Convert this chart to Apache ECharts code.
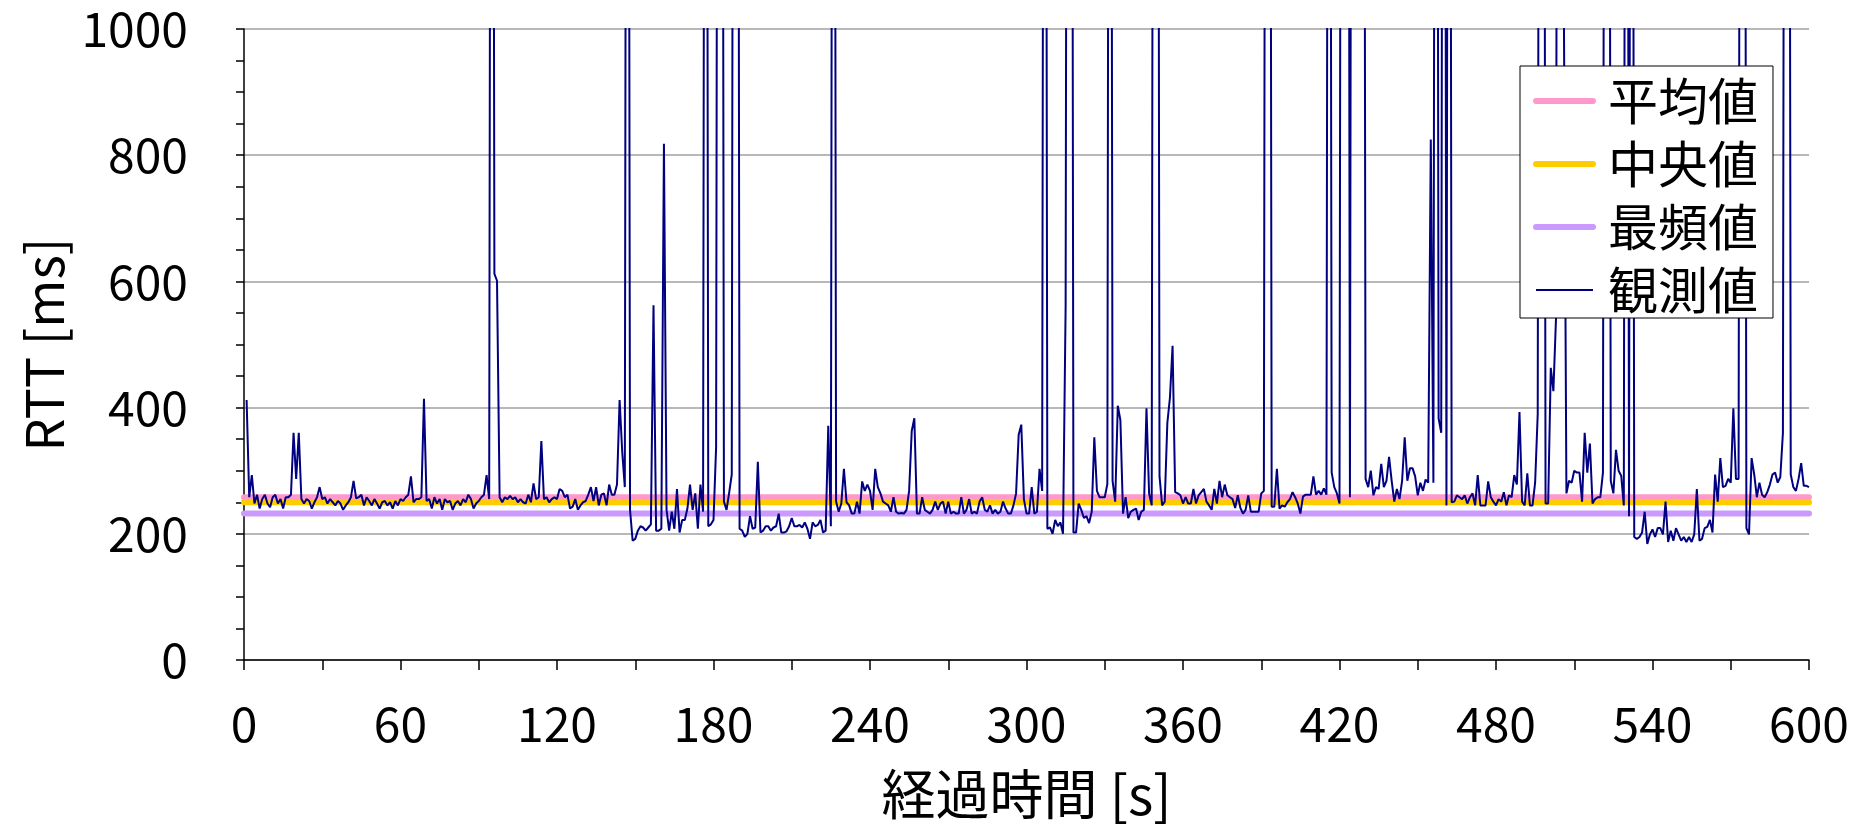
<!DOCTYPE html>
<html>
<head>
<meta charset="utf-8">
<title>RTT</title>
<script src="https://cdn.jsdelivr.net/npm/echarts@6/dist/echarts.min.js"></script>
<style>
  html, body { margin: 0; padding: 0; background: #fff; }
  #chart { width: 1865px; height: 824px; }
</style>
</head>
<body>
<div id="chart"></div>
<script>
// 観測値 (t = 1 .. 600 s), 3000 = 上限外（グラフ上端で切れる）
const rtt = [
  412, 258, 293, 248, 262, 240, 255, 262, 248, 242,
  258, 262, 248, 255, 240, 258, 258, 262, 360, 287,
  360, 255, 248, 255, 252, 240, 250, 258, 274, 255,
  258, 248, 255, 250, 245, 252, 248, 238, 245, 250,
  258, 284, 256, 258, 262, 245, 258, 252, 245, 255,
  248, 240, 250, 252, 245, 250, 240, 252, 245, 255,
  252, 258, 262, 291, 250, 255, 255, 258, 414, 252,
  255, 240, 258, 248, 255, 238, 255, 250, 252, 238,
  248, 252, 245, 255, 250, 262, 255, 240, 248, 252,
  258, 262, 293, 255, 3000, 612, 601, 258, 250, 258,
  255, 260, 255, 258, 250, 255, 250, 248, 262, 250,
  280, 255, 258, 347, 255, 258, 250, 255, 258, 255,
  271, 268, 258, 262, 240, 243, 255, 238, 245, 250,
  252, 262, 274, 252, 274, 245, 262, 264, 245, 278,
  262, 262, 278, 412, 330, 274, 3000, 238, 189, 192,
  205, 212, 210, 205, 210, 215, 562, 205, 205, 208,
  818, 238, 205, 235, 208, 271, 202, 222, 222, 240,
  278, 238, 264, 208, 278, 235, 3000, 212, 215, 222,
  337, 3000, 3000, 251, 238, 265, 294, 3000, 3000, 208,
  205, 195, 200, 228, 208, 210, 314, 202, 205, 212,
  212, 205, 210, 212, 232, 202, 202, 204, 212, 225,
  212, 212, 214, 210, 218, 208, 192, 218, 212, 214,
  222, 202, 205, 371, 212, 3000, 251, 235, 248, 303,
  250, 245, 232, 232, 251, 232, 283, 268, 278, 268,
  238, 303, 274, 264, 251, 248, 245, 235, 258, 235,
  232, 233, 232, 238, 268, 363, 383, 232, 232, 258,
  238, 235, 232, 238, 251, 238, 248, 251, 232, 251,
  232, 235, 232, 232, 258, 232, 238, 255, 232, 235,
  232, 251, 258, 238, 235, 245, 232, 238, 232, 235,
  251, 240, 232, 232, 245, 264, 357, 373, 255, 232,
  232, 274, 232, 235, 303, 268, 3000, 208, 210, 200,
  222, 212, 218, 200, 560, 3000, 3000, 202, 202, 248,
  238, 225, 228, 217, 235, 353, 268, 258, 258, 258,
  279, 3000, 284, 251, 403, 380, 232, 258, 225, 235,
  238, 240, 222, 235, 238, 399, 264, 245, 3000, 3000,
  291, 245, 251, 376, 416, 498, 266, 264, 261, 248,
  258, 248, 248, 271, 248, 261, 266, 271, 251, 245,
  238, 271, 248, 284, 258, 278, 261, 258, 255, 241,
  261, 241, 232, 238, 261, 235, 235, 235, 235, 264,
  268, 3000, 3000, 243, 243, 303, 240, 245, 243, 250,
  255, 266, 258, 248, 232, 259, 262, 262, 262, 291,
  262, 268, 262, 272, 262, 3000, 297, 274, 264, 248,
  3000, 3000, 3000, 258, 3000, 3000, 3000, 3000, 3000, 287,
  274, 300, 261, 274, 271, 311, 274, 284, 322, 284,
  251, 271, 255, 284, 353, 284, 304, 304, 291, 261,
  281, 268, 286, 281, 825, 281, 3000, 383, 360, 3000,
  245, 3000, 250, 251, 261, 258, 255, 261, 248, 258,
  264, 245, 293, 245, 245, 245, 283, 258, 251, 245,
  255, 251, 266, 245, 261, 258, 293, 278, 393, 251,
  245, 296, 245, 245, 281, 390, 3000, 3000, 248, 248,
  463, 426, 541, 3000, 3000, 1050, 264, 284, 281, 300,
  297, 297, 251, 360, 297, 343, 248, 255, 258, 258,
  297, 3000, 3000, 284, 264, 333, 300, 292, 245, 3000,
  228, 3000, 195, 192, 195, 202, 235, 184, 199, 207,
  195, 209, 209, 199, 251, 187, 205, 189, 209, 199,
  189, 195, 187, 195, 187, 199, 271, 189, 192, 209,
  211, 222, 202, 294, 251, 320, 274, 276, 287, 281,
  399, 287, 287, 3000, 3000, 209, 199, 320, 294, 258,
  281, 262, 258, 266, 278, 294, 297, 281, 290, 360,
  3000, 3000, 294, 274, 268, 287, 312, 276, 276, 274
]

// 統計値 [ms]
const meanValue = 258
const medianValue = 250
const modeValue = 232

const seriesNames = ['平均値', '中央値', '最頻値', '観測値']
const seriesColors = ['#ff99cc', '#ffcc00', '#cc99ff', '#000080']

const timeRange = [0, 600]

const font = 'Noto Sans CJK JP'

let myChart = echarts.init(document.getElementById('chart'))

// 水平線
function flatLine (name, value, color) {
    return {
        name: name,
        type: 'line',
        data: timeRange.map(t => [t, value]),
        symbol: 'none',
        silent: true,
        color: color,
        lineStyle: { color: color, width: 6, cap: 'round' }
    }
}

// 凡例のマーカー（丸）は出さない
const noMarker = { color: 'rgba(0,0,0,0)', borderWidth: 0, opacity: 0 }

let option = {
    animation: false,
    backgroundColor: '#fff',
    textStyle: { fontFamily: font, color: '#000' },
    grid: {
        left: 244,
        right: 56,
        top: 29,
        bottom: 164,
        containLabel: false,
        outerBoundsMode: 'none'
    },
    legend: {
        orient: 'vertical',
        left: 1520,
        top: 66,
        padding: [10, 15, 3, 13],
        backgroundColor: '#fff',
        borderColor: '#000',
        borderWidth: 1,
        borderRadius: 0,
        itemWidth: 57,
        itemHeight: 14,
        itemGap: 13,
        textStyle: {
            fontFamily: font,
            fontSize: 50,
            lineHeight: 50,
            color: '#000',
            padding: [0, 0, 0, 10]
        },
        data: [
            { name: seriesNames[0], itemStyle: noMarker, lineStyle: { width: 6, cap: 'round' } },
            { name: seriesNames[1], itemStyle: noMarker, lineStyle: { width: 6, cap: 'round' } },
            { name: seriesNames[2], itemStyle: noMarker, lineStyle: { width: 6, cap: 'round' } },
            { name: seriesNames[3], itemStyle: noMarker, lineStyle: { width: 2 } }
        ]
    },
    xAxis: {
        type: 'value',
        min: 0,
        max: 600,
        interval: 60,
        name: '経過時間 [s]',
        nameLocation: 'middle',
        nameGap: 107,
        nameTextStyle: { fontFamily: font, fontSize: 54, color: '#000' },
        axisLine: { lineStyle: { color: '#000', width: 1.5 } },
        axisTick: { length: 10, lineStyle: { color: '#000', width: 1.5 } },
        minorTick: { show: true, splitNumber: 2, length: 10, lineStyle: { color: '#000', width: 1.5 } },
        axisLabel: { fontFamily: font, fontSize: 48, color: '#000', margin: 40 },
        splitLine: { show: false }
    },
    yAxis: {
        type: 'value',
        min: 0,
        max: 1000,
        interval: 200,
        name: 'RTT [ms]',
        nameLocation: 'middle',
        nameGap: 170,
        nameTextStyle: { fontFamily: font, fontSize: 52, color: '#000' },
        axisLine: { show: true, lineStyle: { color: '#000', width: 1.5 } },
        axisTick: { show: true, length: 8, lineStyle: { color: '#000', width: 1.5 } },
        minorTick: { show: true, splitNumber: 4, length: 8, lineStyle: { color: '#000', width: 1.5 } },
        axisLabel: {
            fontFamily: font,
            fontSize: 48,
            color: '#000',
            margin: 56,
            formatter: (v) => String(v)
        },
        splitLine: { lineStyle: { color: '#a0a0a0', width: 1.5 } }
    },
    series: [
        flatLine(seriesNames[0], meanValue, seriesColors[0]),
        flatLine(seriesNames[1], medianValue, seriesColors[1]),
        flatLine(seriesNames[2], modeValue, seriesColors[2]),
        {
            name: seriesNames[3],
            type: 'line',
            data: rtt.map((v, i) => [i + 1, v]),
            symbol: 'none',
            silent: true,
            clip: true,
            color: seriesColors[3],
            lineStyle: { color: seriesColors[3], width: 2 }
        }
    ]
}

option && myChart.setOption(option)
window.addEventListener('resize', () => {
    myChart.resize()
})
</script>
</body>
</html>
